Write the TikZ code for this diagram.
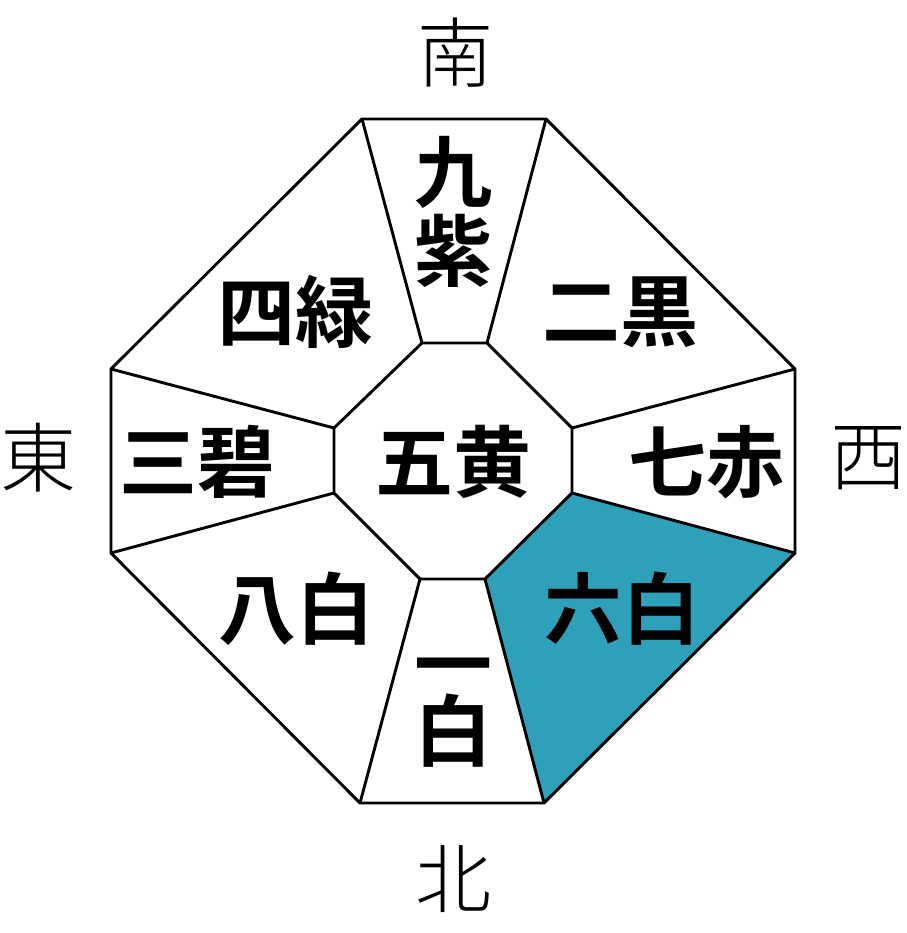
\documentclass[tikz,border=0pt]{standalone}
\usepackage{fontspec}
\newfontfamily\cjk[BoldFont={Noto Sans CJK JP Bold}]{Noto Sans CJK JP}
\newfontfamily\cjklight{Noto Sans CJK JP Light}
\usetikzlibrary{positioning}
\definecolor{sixteal}{HTML}{2EA0BA}

\begin{document}
\begin{tikzpicture}[x=1pt, y=-1pt,
  edge/.style={line width=2.9pt, line join=miter},
  star/.style={font=\cjk\bfseries\fontsize{78}{79}\selectfont, inner sep=0pt, align=center},
  dir/.style={font=\cjklight\fontsize{76}{76}\selectfont, inner sep=0pt}]
\useasboundingbox (0,0) rectangle (906,933);
% outer and inner octagon corners
\coordinate (o1) at (362,119); \coordinate (o2) at (546,119);
\coordinate (o3) at (795,369); \coordinate (o4) at (795,553);
\coordinate (o5) at (544,803); \coordinate (o6) at (360,803);
\coordinate (o7) at (111,553); \coordinate (o8) at (111,369);
\coordinate (i1) at (422,343); \coordinate (i2) at (487,343);
\coordinate (i3) at (572,428); \coordinate (i4) at (572,493);
\coordinate (i5) at (485,579); \coordinate (i6) at (420,579);
\coordinate (i7) at (334,493); \coordinate (i8) at (334,428);
% highlighted sector
\fill[sixteal] (o4) -- (o5) -- (i5) -- (i4) -- cycle;
\draw[edge] (o1) -- (o2) -- (o3) -- (o4) -- (o5) -- (o6) -- (o7) -- (o8) -- cycle;
\draw[edge] (i1) -- (i2) -- (i3) -- (i4) -- (i5) -- (i6) -- (i7) -- (i8) -- cycle;
\foreach \k in {1,...,8}
  \draw[edge] (o\k) -- (i\k);
% stars
\node[star] (nine)  at (453,212) {九\\紫};
\node[star] (four)  at (295,312) {四緑};
\node[star] (two)   at (620,312) {二黒};
\node[star] (three) at (197,462) {三碧};
\node[star] (five)  at (453,462) {五黄};
\node[star] (seven) at (706,462) {七赤};
\node[star] (eight) at (296,609) {八白};
\node[star] (six)   at (622,609) {六白};
\node[star] (one)   at (453,713) {一\\[-12pt]白};
% directions
\node[dir] (south) at (455,53)  {南};
\node[dir] (east)  at (39,458)  {東};
\node[dir] (west)  at (868,458) {西};
\node[dir] (north) at (453,879) {北};
\end{tikzpicture}
\end{document}
